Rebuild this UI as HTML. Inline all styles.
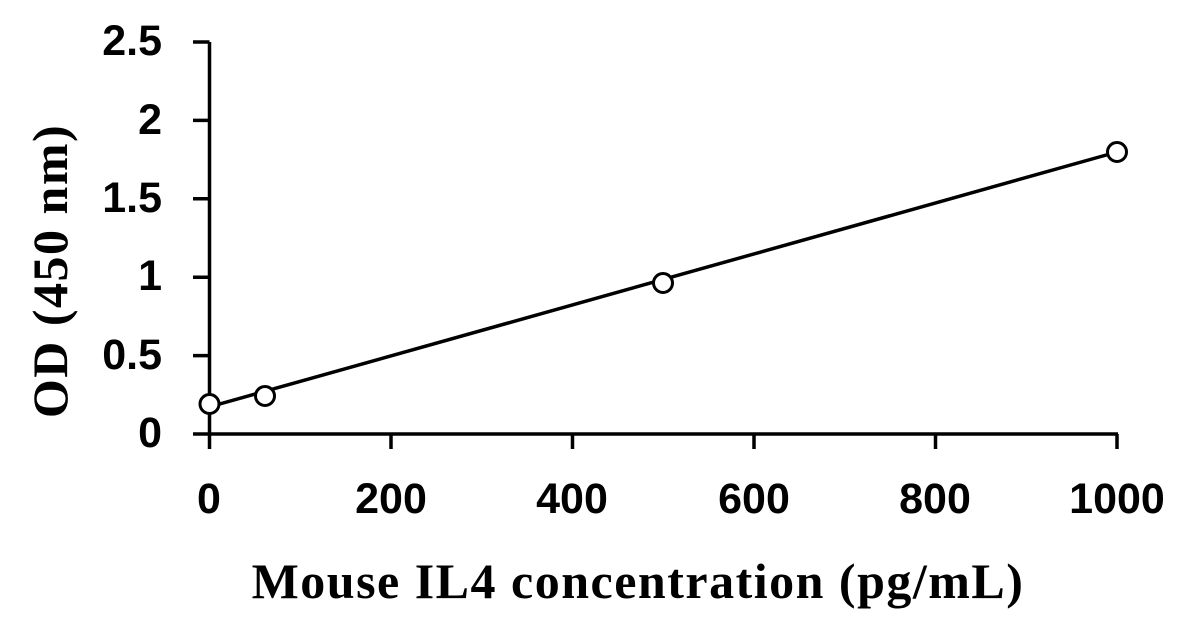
<!DOCTYPE html>
<html><head><style>body{margin:0;background:#fff}</style></head><body>
<svg width="1191" height="638" xmlns="http://www.w3.org/2000/svg">
<g stroke="#000" stroke-width="3.5" fill="none">
<line x1="209.5" y1="42" x2="209.5" y2="449"/>
<line x1="193" y1="434" x2="1118" y2="434"/>
<line x1="193" y1="42" x2="209.5" y2="42"/>
<line x1="193" y1="120.4" x2="209.5" y2="120.4"/>
<line x1="193" y1="198.8" x2="209.5" y2="198.8"/>
<line x1="193" y1="277.2" x2="209.5" y2="277.2"/>
<line x1="193" y1="355.6" x2="209.5" y2="355.6"/>
<line x1="391" y1="434" x2="391" y2="449"/>
<line x1="572.5" y1="434" x2="572.5" y2="449"/>
<line x1="754" y1="434" x2="754" y2="449"/>
<line x1="935.5" y1="434" x2="935.5" y2="449"/>
<line x1="1117" y1="434" x2="1117" y2="449"/>
<line x1="209" y1="407" x2="1117" y2="152" stroke-width="3.5"/>
</g>
<g stroke="#000" stroke-width="3" fill="#fff">
<circle cx="209.5" cy="404" r="9.5"/>
<circle cx="265" cy="396" r="9.5"/>
<circle cx="663" cy="283" r="9.5"/>
<circle cx="1117" cy="152" r="9.5"/>
</g>
<g font-family="Liberation Sans, sans-serif" font-weight="bold" font-size="43" text-anchor="end">
<text x="162" y="55">2.5</text>
<text x="162" y="134">2</text>
<text x="162" y="212">1.5</text>
<text x="162" y="290">1</text>
<text x="162" y="369">0.5</text>
<text x="162" y="447">0</text>
</g>
<g font-family="Liberation Sans, sans-serif" font-weight="bold" font-size="43" text-anchor="middle">
<text x="209" y="513">0</text>
<text x="391" y="513">200</text>
<text x="572" y="513">400</text>
<text x="754" y="513">600</text>
<text x="935" y="513">800</text>
<text x="1117" y="513">1000</text>
</g>
<text x="638" y="598" font-family="Liberation Serif, serif" font-weight="bold" font-size="50" text-anchor="middle" letter-spacing="1.5">Mouse IL4 concentration (pg/mL)</text>
<text transform="translate(67,271) rotate(-90)" font-family="Liberation Serif, serif" font-weight="bold" font-size="50" text-anchor="middle" letter-spacing="1.5">OD (450 nm)</text>
</svg>
</body></html>
